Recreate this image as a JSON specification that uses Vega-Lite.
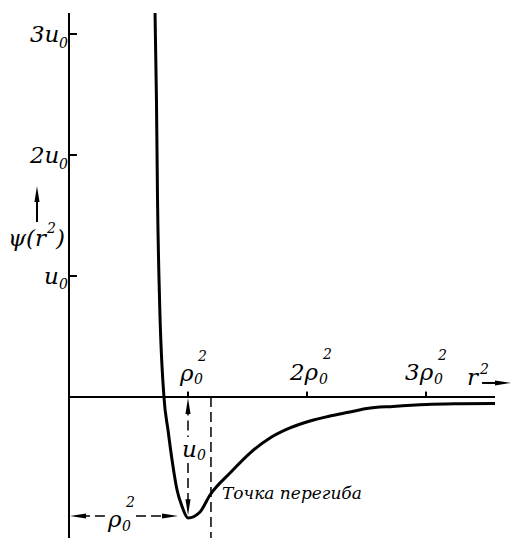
{
  "$schema": "https://vega.github.io/schema/vega-lite/v6.json",
  "width": 512,
  "height": 538,
  "autosize": "none",
  "padding": 0,
  "background": "white",
  "config": {"view": {"stroke": null}},
  "datasets": {
    "curve": [
      {"x": 0.723, "y": 3.174},
      {"x": 0.735, "y": 2.455},
      {"x": 0.744, "y": 1.628},
      {"x": 0.761, "y": 0.802},
      {"x": 0.798, "y": 0.0},
      {"x": 0.832, "y": -0.273},
      {"x": 0.866, "y": -0.521},
      {"x": 0.908, "y": -0.769},
      {"x": 0.95, "y": -0.905},
      {"x": 1.0, "y": -1.0},
      {"x": 1.101, "y": -0.95},
      {"x": 1.185, "y": -0.81},
      {"x": 1.353, "y": -0.628},
      {"x": 1.521, "y": -0.463},
      {"x": 1.689, "y": -0.339},
      {"x": 1.857, "y": -0.256},
      {"x": 2.025, "y": -0.198},
      {"x": 2.193, "y": -0.157},
      {"x": 2.361, "y": -0.124},
      {"x": 2.504, "y": -0.095},
      {"x": 2.723, "y": -0.078},
      {"x": 3.008, "y": -0.062},
      {"x": 3.286, "y": -0.056},
      {"x": 3.58, "y": -0.053}
    ],
    "solid": [
      {"x": 0, "x2": 0, "y": 3.174, "y2": -1.1653},
      {"x": 0, "x2": 0.067, "y": 1, "y2": 1},
      {"x": 0, "x2": 0.067, "y": 2, "y2": 2},
      {"x": 0, "x2": 0.067, "y": 3, "y2": 3},
      {"x": 0, "x2": 3.58, "y": 0, "y2": 0},
      {"x": 1, "x2": 1, "y": 0, "y2": 0.045},
      {"x": 2, "x2": 2, "y": 0, "y2": 0.045},
      {"x": 3, "x2": 3, "y": 0, "y2": 0.045},
      {"x": -0.269, "x2": -0.269, "y": 1.446, "y2": 1.68},
      {"x": 3.471, "x2": 3.66, "y": 0.116, "y2": 0.116}
    ],
    "dashed": [
      {"x": 1.193, "x2": 1.193, "y": 0, "y2": -1.1653},
      {"x": 1.0, "x2": 1.0, "y": -0.07, "y2": -0.331},
      {"x": 1.0, "x2": 1.0, "y": -0.545, "y2": -0.9},
      {"x": 0.092, "x2": 0.311, "y": -0.983, "y2": -0.983},
      {"x": 0.563, "x2": 0.832, "y": -0.983, "y2": -0.983}
    ],
    "heads": [
      {"x": -0.269, "y": 1.678, "dir": "up"},
      {"x": 3.647, "y": 0.116, "dir": "right"},
      {"x": 1.0, "y": -0.074, "dir": "up"},
      {"x": 1.0, "y": -0.912, "dir": "down"},
      {"x": 0.076, "y": -0.983, "dir": "left"},
      {"x": 0.849, "y": -0.983, "dir": "right"}
    ],
    "bigText": [
      {"x": -0.328, "y": 2.934, "text": "3u"},
      {"x": -0.328, "y": 1.934, "text": "2u"},
      {"x": -0.21, "y": 0.934, "text": "u"},
      {"x": -0.513, "y": 1.248, "text": "ψ(r"},
      {"x": -0.11, "y": 1.248, "text": ")"},
      {"x": 0.933, "y": 0.132, "text": "ρ"},
      {"x": 1.857, "y": 0.14, "text": "2ρ"},
      {"x": 2.824, "y": 0.14, "text": "3ρ"},
      {"x": 3.345, "y": 0.099, "text": "r"},
      {"x": 0.95, "y": -0.496, "text": "u"},
      {"x": 0.328, "y": -1.074, "text": "ρ"}
    ],
    "smallText": [
      {"x": -0.084, "y": 2.884, "text": "0"},
      {"x": -0.084, "y": 1.884, "text": "0"},
      {"x": -0.084, "y": 0.893, "text": "0"},
      {"x": 1.05, "y": 0.107, "text": "0"},
      {"x": 2.101, "y": 0.107, "text": "0"},
      {"x": 3.067, "y": 0.107, "text": "0"},
      {"x": 1.076, "y": -0.521, "text": "0"},
      {"x": 0.445, "y": -1.107, "text": "0"},
      {"x": -0.185, "y": 1.355, "text": "2"},
      {"x": 1.084, "y": 0.3, "text": "2"},
      {"x": 2.134, "y": 0.315, "text": "2"},
      {"x": 3.1, "y": 0.307, "text": "2"},
      {"x": 3.454, "y": 0.19, "text": "2"},
      {"x": 0.479, "y": -0.91, "text": "2"}
    ],
    "note": [
      {"x": 1.286, "y": -0.843, "text": "Точка перегиба"}
    ]
  },
  "encoding": {
    "x": {"field": "x", "type": "quantitative", "scale": {"domain": [-0.5798, 3.7227], "nice": false, "zero": false}, "axis": null},
    "y": {"field": "y", "type": "quantitative", "scale": {"domain": [-1.1653, 3.281], "nice": false, "zero": false}, "axis": null}
  },
  "layer": [
    {
      "data": {"name": "solid"},
      "mark": {"type": "rule", "color": "black", "strokeWidth": 2},
      "encoding": {
        "x2": {"field": "x2"},
        "y2": {"field": "y2"}
      }
    },
    {
      "data": {"name": "dashed"},
      "mark": {"type": "rule", "color": "black", "strokeWidth": 1.5, "strokeDash": [10, 5]},
      "encoding": {
        "x2": {"field": "x2"},
        "y2": {"field": "y2"}
      }
    },
    {
      "data": {"name": "curve"},
      "mark": {"type": "line", "color": "black", "strokeWidth": 3, "interpolate": "monotone"},
      "encoding": {}
    },
    {
      "data": {"name": "heads"},
      "mark": {"type": "point", "filled": true, "color": "black", "opacity": 1, "size": 256},
      "encoding": {
        "shape": {
          "field": "dir",
          "type": "nominal",
          "legend": null,
          "scale": {
            "domain": ["up", "down", "left", "right"],
            "range": ["M0,-1L0.32,1L-0.32,1Z", "M0,1L0.32,-1L-0.32,-1Z", "M-1,0L1,0.32L1,-0.32Z", "M1,0L-1,0.32L-1,-0.32Z"]
          }
        }
      }
    },
    {
      "data": {"name": "bigText"},
      "mark": {"type": "text", "align": "left", "baseline": "alphabetic", "font": "DejaVu Serif", "fontStyle": "italic", "fontSize": 23, "color": "black"},
      "encoding": {"text": {"field": "text"}}
    },
    {
      "data": {"name": "smallText"},
      "mark": {"type": "text", "align": "left", "baseline": "alphabetic", "font": "DejaVu Serif", "fontStyle": "italic", "fontSize": 14, "color": "black"},
      "encoding": {"text": {"field": "text"}}
    },
    {
      "data": {"name": "note"},
      "mark": {"type": "text", "align": "left", "baseline": "alphabetic", "font": "DejaVu Serif", "fontStyle": "italic", "fontSize": 17, "color": "black"},
      "encoding": {"text": {"field": "text"}}
    }
  ]
}
